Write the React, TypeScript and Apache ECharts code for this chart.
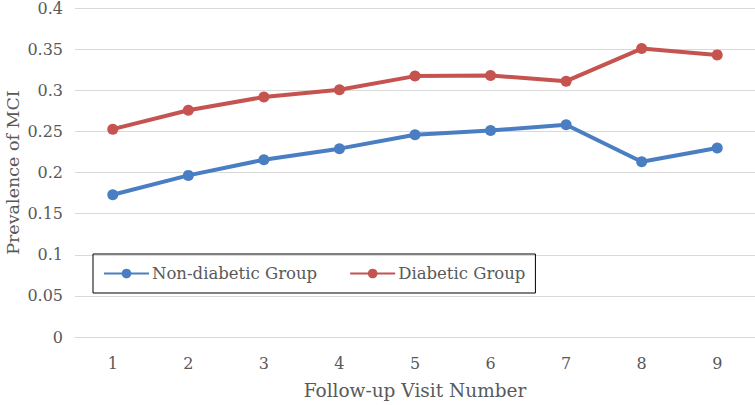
import React, { useEffect, useRef } from "react";
import * as echarts from "echarts";

const visits = ["1", "2", "3", "4", "5", "6", "7", "8", "9"];
const nonDiabetic = [0.173, 0.1965, 0.2155, 0.229, 0.246, 0.251, 0.258, 0.213, 0.2297];
const diabetic = [0.2527, 0.2757, 0.2918, 0.3006, 0.3172, 0.318, 0.311, 0.3507, 0.343];
const seriesNames = ["Non-diabetic Group", "Diabetic Group"];
const yTitle = "Prevalence of MCI";
const xTitle = "Follow-up Visit Number";

const FONT = "DejaVu Serif";
const GRAY = "#595959";

export default function App() {
  const ref = useRef<HTMLDivElement>(null);
  useEffect(() => {
    if (!ref.current) return;
    const chart = echarts.init(ref.current, null, { renderer: "svg" });
    chart.setOption({
      animation: false,
      backgroundColor: "#ffffff",
      textStyle: { fontFamily: FONT },
      grid: { left: 75, right: 0, top: 8, bottom: 68, containLabel: false, outerBoundsMode: "none" },
      legend: {
        left: 93,
        top: 254,
        orient: "horizontal",
        borderColor: "#000000",
        borderWidth: 1,
        padding: [11, 10, 11, 10],
        itemGap: 32,
        itemWidth: 45,
        itemHeight: 12,
        textStyle: { fontFamily: FONT, fontSize: 16.5, color: GRAY, padding: [0, 0, 0, -2] },
        data: seriesNames,
      },
      xAxis: {
        type: "category",
        data: visits,
        boundaryGap: true,
        name: xTitle,
        nameLocation: "middle",
        nameGap: 44,
        nameMoveOverlap: false,
        nameTextStyle: { fontFamily: FONT, fontSize: 18.5, color: GRAY },
        axisLine: { lineStyle: { color: "#d9d9d9", width: 1 } },
        axisTick: { show: false },
        axisLabel: { fontFamily: FONT, fontSize: 16, color: GRAY, margin: 18 },
      },
      yAxis: {
        type: "value",
        min: 0,
        max: 0.4,
        interval: 0.05,
        name: yTitle,
        nameLocation: "middle",
        nameGap: 53,
        nameMoveOverlap: false,
        nameTextStyle: { fontFamily: FONT, fontSize: 17.5, color: GRAY },
        axisLine: { show: false },
        axisTick: { show: false },
        axisLabel: { fontFamily: FONT, fontSize: 16, color: GRAY, margin: 12 },
        splitLine: { lineStyle: { color: "#d9d9d9", width: 1 } },
      },
      series: [
        {
          name: seriesNames[0],
          type: "line",
          data: nonDiabetic,
          symbol: "circle",
          symbolSize: 11,
          itemStyle: { color: "#4a7ec2" },
          lineStyle: { color: "#4a7ec2", width: 4 },
        },
        {
          name: seriesNames[1],
          type: "line",
          data: diabetic,
          symbol: "circle",
          symbolSize: 11,
          itemStyle: { color: "#c55350" },
          lineStyle: { color: "#c55350", width: 4 },
        },
      ],
    });
    return () => chart.dispose();
  }, []);
  return (
    <div
      ref={ref}
      style={{ position: "fixed", left: 0, top: 0, width: 755, height: 405, background: "#fff" }}
    />
  );
}
